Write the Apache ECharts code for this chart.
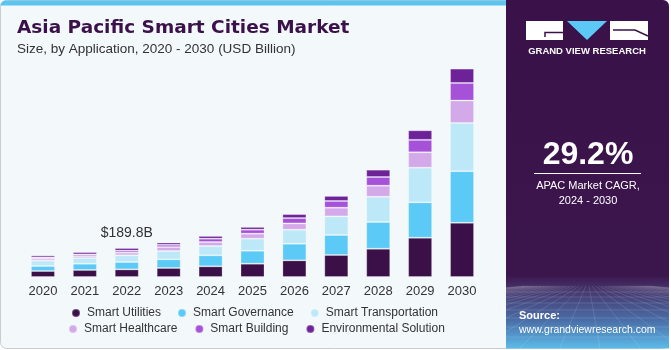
<!DOCTYPE html>
<html>
<head>
<meta charset="utf-8">
<script src="https://cdn.jsdelivr.net/npm/echarts@6/dist/echarts.min.js"></script>
<style>
  html, body { margin: 0; padding: 0; background: #fff; }
  #main { width: 671px; height: 350px; }
</style>
</head>
<body>
<div id="main"></div>
<script>
var years = ['2020', '2021', '2022', '2023', '2024', '2025', '2026', '2027', '2028', '2029', '2030'];
// USD billion
var utilities = [39, 46, 50, 59, 70, 87, 109, 144, 185, 257, 355];
var governance = [33, 41, 48, 57, 72, 85, 109, 131, 175, 232, 338];
var transportation = [35, 37, 44, 54, 61, 79, 92, 122, 166, 227, 316];
var healthcare = [13, 13, 17.5, 26, 26, 33, 41, 57, 72, 101, 147];
var building = [8.5, 11, 13, 15, 22, 26, 35, 44, 57, 81, 115];
var environmental = [13, 15, 17.3, 15, 18, 18, 26, 33, 48, 63, 94];
var labelYear = '2022';
var labelText = '$189.8B';

var names = ['Smart Utilities', 'Smart Governance', 'Smart Transportation',
  'Smart Healthcare', 'Smart Building', 'Environmental Solution'];
var colors = ['#3b1049', '#5bcaf6', '#bde8f8', '#d4a9ea', '#a552d9', '#6e2298'];
var values = [utilities, governance, transportation, healthcare, building, environmental];

var dark = '#3a1149';
var font = 'Liberation Sans, Arial, sans-serif';

var chart = echarts.init(document.getElementById('main'));

var series = names.map(function (n, i) {
  var data = values[i].slice();
  if (i === names.length - 1) {
    var k = years.indexOf(labelYear);
    data[k] = {
      value: data[k],
      label: { show: true, position: 'top', distance: 8, formatter: labelText,
        color: '#333', fontSize: 14, fontFamily: font }
    };
  }
  return {
    name: n,
    type: 'bar',
    stack: 'total',
    barWidth: 24,
    data: data,
    itemStyle: { color: colors[i], borderColor: 'rgba(255,255,255,0.25)', borderWidth: 1 }
  };
});

var legendBase = {
  icon: 'circle',
  itemWidth: 12,
  itemHeight: 8,
  textStyle: { fontSize: 12, color: '#333', fontFamily: font },
  selectedMode: false
};

// faint perspective grid at the bottom of the side panel
var gridLines = [];
var hy = [292, 297, 303, 310, 318, 327, 337];
hy.forEach(function (y) {
  gridLines.push({ type: 'line', shape: { x1: 506, y1: y, x2: 669, y2: y },
    style: { stroke: 'rgba(255,255,255,0.13)', lineWidth: 1 } });
});
for (var gx = -200; gx <= 1380; gx += 40) {
  gridLines.push({ type: 'line', shape: { x1: 588 + (gx - 588) * 0.08, y1: 286, x2: gx, y2: 348 },
    style: { stroke: 'rgba(255,255,255,0.12)', lineWidth: 1 } });
}
var panelGrid = { type: 'group', z: -7, clipPath: { type: 'rect', shape: { x: 506, y: 284, width: 163, height: 64 } },
  children: gridLines };

chart.setOption({
  animation: false,
  color: colors,
  grid: { left: 22, right: 188, top: 48, bottom: 73 },
  xAxis: {
    type: 'category',
    data: years,
    axisLine: { show: false },
    axisTick: { show: false },
    axisLabel: { color: '#333', fontSize: 13, fontFamily: font, margin: 8 }
  },
  yAxis: { type: 'value', min: 0, max: 1500, show: false },
  legend: [
    Object.assign({}, legendBase, { data: names.slice(0, 3), left: 66, top: 302, itemGap: 16 }),
    Object.assign({}, legendBase, { data: names.slice(3), left: 63, top: 318, itemGap: 17 })
  ],
  graphic: [
    // card background
    { type: 'rect', z: -10, shape: { x: 0.5, y: 0.5, width: 668, height: 348, r: 6 },
      style: { fill: '#f3f8fb', stroke: '#c9cdd2', lineWidth: 1 } },
    { type: 'rect', z: -9, shape: { x: 0.5, y: 0.5, width: 506, height: 5, r: [6, 0, 0, 0] },
      style: { fill: '#5bc4ef' } },
    // right panel
    { type: 'rect', z: -8, shape: { x: 506, y: 0, width: 163, height: 348.5, r: [0, 6, 0, 0] },
      style: { fill: new echarts.graphic.LinearGradient(0, 0, 0, 1, [
        { offset: 0, color: '#3a1149' },
        { offset: 0.79, color: '#3b164d' },
        { offset: 0.83, color: '#45356b' },
        { offset: 0.92, color: '#4a6ea8' },
        { offset: 1, color: '#5cbbe9' }
      ]) } },
    panelGrid,
    // logo
    { type: 'rect', shape: { x: 526, y: 21, width: 37, height: 19 }, style: { fill: '#fff' } },
    { type: 'polyline', shape: { points: [[545, 37], [545, 32.5], [563, 32.5]] },
      style: { stroke: dark, lineWidth: 1.5, fill: null } },
    { type: 'polygon', shape: { points: [[567, 21], [607, 21], [587, 40]] }, style: { fill: '#5bc8f5' } },
    { type: 'rect', shape: { x: 610, y: 21, width: 38, height: 19 }, style: { fill: '#fff' } },
    { type: 'polyline', shape: { points: [[613, 30], [635, 30], [648, 36]] },
      style: { stroke: dark, lineWidth: 1.5, fill: null } },
    { type: 'text', style: { text: 'GRAND VIEW RESEARCH', x: 587, y: 51, align: 'center', verticalAlign: 'middle',
      fill: '#fff', fontSize: 9.5, fontWeight: 'bold', fontFamily: font } },
    // CAGR
    { type: 'text', style: { text: '29.2%', x: 588, y: 155, align: 'center', verticalAlign: 'middle',
      fill: '#fff', fontSize: 32, fontWeight: 'bold', fontFamily: font } },
    { type: 'line', shape: { x1: 534, y1: 173.5, x2: 641, y2: 173.5 }, style: { stroke: '#fff', lineWidth: 1 } },
    { type: 'text', style: { text: 'APAC Market CAGR,', x: 588, y: 186, align: 'center', verticalAlign: 'middle',
      fill: '#fff', fontSize: 11, fontFamily: font } },
    { type: 'text', style: { text: '2024 - 2030', x: 588, y: 201, align: 'center', verticalAlign: 'middle',
      fill: '#fff', fontSize: 11, fontFamily: font } },
    // source
    { type: 'text', style: { text: 'Source:', x: 519, y: 316, align: 'left', verticalAlign: 'middle',
      fill: '#fff', fontSize: 11, fontWeight: 'bold', fontFamily: font } },
    { type: 'text', style: { text: 'www.grandviewresearch.com', x: 519, y: 330, align: 'left', verticalAlign: 'middle',
      fill: '#fff', fontSize: 10.5, fontFamily: font } },
    // titles
    { type: 'text', style: { text: 'Asia Pacific Smart Cities Market', x: 17, y: 28, align: 'left', verticalAlign: 'middle',
      fill: dark, fontSize: 18.5, fontWeight: 'bold', fontFamily: 'DejaVu Sans, sans-serif' } },
    { type: 'text', style: { text: 'Size, by Application, 2020 - 2030 (USD Billion)', x: 17, y: 49, align: 'left', verticalAlign: 'middle',
      fill: '#333', fontSize: 13.5, fontFamily: font } }
  ],
  series: series
});
</script>
</body>
</html>
